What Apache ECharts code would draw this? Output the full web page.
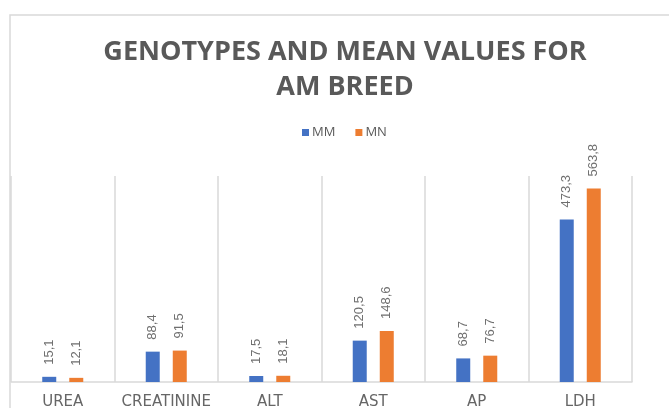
<!DOCTYPE html>
<html>
<head>
<meta charset="utf-8">
<script src="https://cdn.jsdelivr.net/npm/echarts@6/dist/echarts.min.js"></script>
<style>
  html, body { margin: 0; padding: 0; background: #fff; }
  #chart { width: 669px; height: 408px; }
</style>
</head>
<body>
<div id="chart"></div>
<script>
  // values
  const categories = ['UREA', 'CREATININE', 'ALT', 'AST', 'AP', 'LDH'];
  const mmValues = [15.1, 88.4, 17.5, 120.5, 68.7, 473.3];
  const mnValues = [12.1, 91.5, 18.1, 148.6, 76.7, 563.8];
  const seriesNames = ['MM', 'MN'];

  const chart = echarts.init(document.getElementById('chart'));

  // labels use a decimal comma like the original
  const labelFmt = (p) => String(p.value.toFixed(1)).replace('.', ',');

  const barLabel = {
    show: true,
    position: 'top',
    rotate: 90,
    align: 'left',
    verticalAlign: 'middle',
    distance: 12,
    color: '#6f6f6f',
    fontSize: 13,
    fontFamily: 'Liberation Sans',
    formatter: labelFmt
  };

  const options = {
    animation: false,
    graphic: [
      {
        type: 'rect',
        shape: { x: 10, y: 15, width: 800, height: 500 },
        style: { fill: 'none', stroke: '#d9d9d9', lineWidth: 1.5 },
        silent: true
      }
    ],
    title: {
      text: 'GENOTYPES AND MEAN VALUES FOR\nAM BREED',
      left: 340,
      top: 30,
      textAlign: 'center',
      textStyle: {
        color: '#595959',
        fontSize: 27,
        fontWeight: 'bold',
        fontFamily: 'Open Sans',
        lineHeight: 35
      }
    },
    legend: {
      data: seriesNames,
      top: 121,
      left: 297,
      itemWidth: 7,
      itemHeight: 7,
      itemGap: 20,
      icon: 'rect',
      textStyle: {
        color: '#595959',
        fontSize: 13,
        fontFamily: 'Open Sans',
        padding: [0, 0, 0, -2]
      }
    },
    grid: {
      left: 11,
      right: 37,
      top: 176,
      bottom: 26,
      outerBoundsMode: 'none',
      containLabel: false
    },
    xAxis: {
      type: 'category',
      data: categories,
      axisLine: { lineStyle: { color: '#d9d9d9', width: 1.5 } },
      axisTick: { show: false },
      splitLine: { show: true, interval: 0, lineStyle: { color: '#d9d9d9', width: 1.5 } },
      axisLabel: {
        interval: 0,
        color: '#666',
        fontSize: 15,
        fontFamily: 'DejaVu Sans',
        margin: 13
      }
    },
    yAxis: {
      type: 'value',
      min: 0,
      max: 600,
      axisLine: { show: false },
      axisTick: { show: false },
      axisLabel: { show: false },
      splitLine: { show: false }
    },
    series: [
      {
        name: seriesNames[0],
        type: 'bar',
        data: mmValues,
        barWidth: 14,
        barGap: '93%',
        itemStyle: { color: '#4472C4' },
        label: barLabel
      },
      {
        name: seriesNames[1],
        type: 'bar',
        data: mnValues,
        barWidth: 14,
        itemStyle: { color: '#ED7D31' },
        label: barLabel
      }
    ]
  };
  chart.setOption(options);
</script>
</body>
</html>
